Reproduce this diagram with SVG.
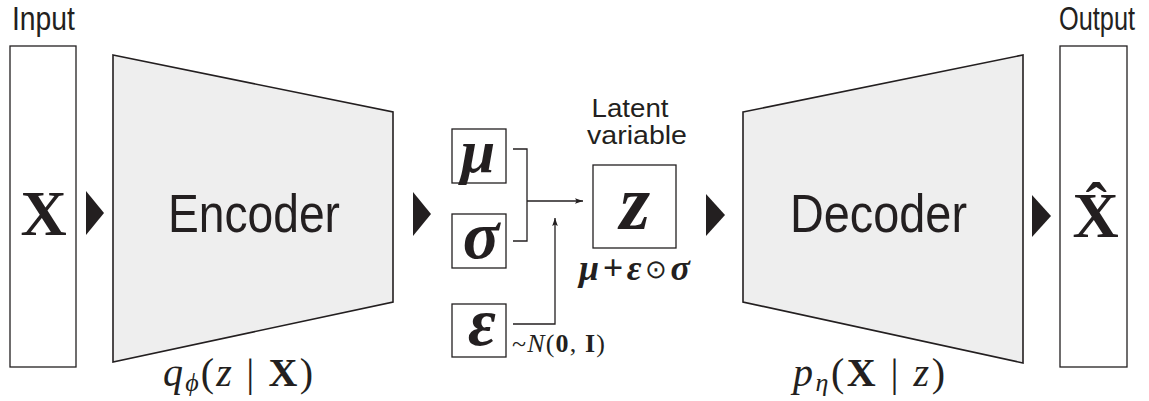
<svg xmlns="http://www.w3.org/2000/svg" width="1149" height="401" viewBox="0 0 1149 401">
<style>
.box{fill:#fff;stroke:#231f20;stroke-width:1.3}
.trap{fill:#eeeeee;stroke:#231f20;stroke-width:1.6}
.tri{fill:#231f20}
.sans{font-family:"Liberation Sans",Arial,sans-serif;fill:#231f20}
.math{font-family:"Liberation Serif","Times New Roman",serif;fill:#231f20}
.bi{font-weight:bold;font-style:italic}
.b{font-weight:bold}
.i{font-style:italic}
.conn{fill:none;stroke:#231f20;stroke-width:1.3}
</style>
<defs>
<marker id="ah" viewBox="0 0 10 10" refX="10" refY="5" markerWidth="8" markerHeight="8" markerUnits="userSpaceOnUse" orient="auto">
<path d="M0,1.5 L10,5 L0,8.5 L2,5 Z" fill="#231f20"/>
</marker>
</defs>
<g id="input">
<text class="sans" transform="translate(12,30) scale(0.833,1)" x="0" y="0" font-size="34">Input</text>
<rect class="box" x="10" y="46" width="66" height="321"/>
<text class="math b" x="43.5" y="235" font-size="64" text-anchor="middle">X</text>
</g>
<g id="encoder">
<polygon class="trap" points="113,55 393,112 393,302 113,362"/>
<text class="sans" x="168" y="232" font-size="54" textLength="172" lengthAdjust="spacingAndGlyphs">Encoder</text>
<text class="math" x="163" y="386" font-size="40" textLength="150" lengthAdjust="spacing"><tspan class="i">q</tspan><tspan class="i" font-size="26" dy="5">ϕ</tspan><tspan dy="-5">(</tspan><tspan class="i">z</tspan> | <tspan class="b">X</tspan>)</text>
</g>
<g id="mu">
<rect class="box" x="452" y="129" width="54" height="54"/>
<text class="math bi" x="478" y="172" font-size="62" text-anchor="middle">μ</text>
</g>
<g id="sigma">
<rect class="box" x="452" y="214" width="54" height="54"/>
<text class="math bi" x="481" y="258" font-size="68" text-anchor="middle">σ</text>
</g>
<g id="epsilon">
<rect class="box" x="452" y="304" width="54" height="53"/>
<text class="math bi" x="482" y="345" font-size="68" text-anchor="middle">ε</text>
<text class="math" x="512" y="352" font-size="26" textLength="93" lengthAdjust="spacing">~<tspan class="i">N</tspan>(<tspan class="b">0</tspan>, <tspan class="b">I</tspan>)</text>
</g>
<g id="latent">
<text class="sans" x="630" y="117" font-size="25" text-anchor="middle" textLength="77" lengthAdjust="spacingAndGlyphs">Latent</text>
<text class="sans" x="637" y="144" font-size="25" text-anchor="middle" textLength="100" lengthAdjust="spacingAndGlyphs">variable</text>
<rect class="box" x="593" y="165" width="83" height="83"/>
<text class="math bi" x="635" y="229" font-size="78" text-anchor="middle">z</text>
<text class="math bi" x="579" y="280" font-size="36" textLength="111" lengthAdjust="spacing">μ+ε<tspan font-weight="normal" font-style="normal" font-size="26" dy="-2">⊙</tspan><tspan dy="2">σ</tspan></text>
</g>
<g id="decoder">
<polygon class="trap" points="743,112 1023,55 1023,363 743,302"/>
<text class="sans" x="790" y="232" font-size="54" textLength="177" lengthAdjust="spacingAndGlyphs">Decoder</text>
<text class="math" x="793" y="386" font-size="40" textLength="152" lengthAdjust="spacing"><tspan class="i">p</tspan><tspan class="i" font-size="26" dy="5">η</tspan><tspan dy="-5">(</tspan><tspan class="b">X</tspan> | <tspan class="i">z</tspan>)</text>
</g>
<g id="output">
<text class="sans" transform="translate(1059,30) scale(0.745,1)" x="0" y="0" font-size="34">Output</text>
<rect class="box" x="1060" y="46" width="67" height="321"/>
<text class="math b" x="1095.5" y="237" font-size="64" text-anchor="middle">X̂</text>
</g>
<g id="connectors">
<polygon class="tri" points="86,191 104,213 86,235"/>
<polygon class="tri" points="413,192 431,214 413,236"/>
<polygon class="tri" points="706,194 725,215 706,236"/>
<polygon class="tri" points="1032,195 1051,216 1032,237"/>
<polyline class="conn" points="513,149 527,149 527,241 513,241"/>
<line class="conn" x1="527" y1="201" x2="583" y2="201" marker-end="url(#ah)"/>
<polyline class="conn" points="513,324 555,324 555,218" marker-end="url(#ah)"/>
</g>
</svg>
